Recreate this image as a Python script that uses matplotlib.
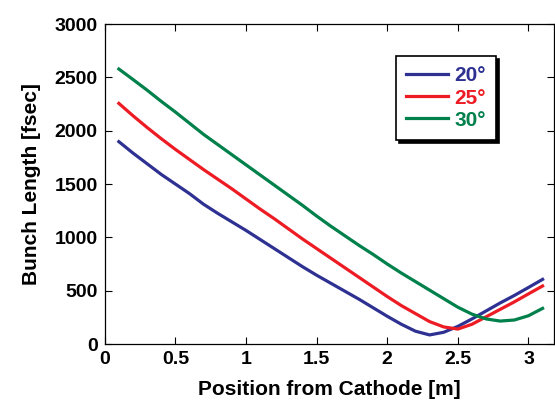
import numpy as np
import matplotlib
matplotlib.use('Agg')
import matplotlib.pyplot as plt

plt.rcParams['font.family'] = ['Liberation Sans', 'DejaVu Sans']
plt.rcParams['font.weight'] = 'bold'

# position from cathode [m]
position = np.round(np.arange(0.1, 3.11, 0.1), 1)

# bunch length [fsec] for each angle
bunch_20 = [1897, 1790, 1690, 1590, 1500, 1410, 1310, 1225, 1145, 1065,
            980, 895, 810, 725, 645, 570, 495, 420, 340, 260,
            185, 120, 85, 110, 165, 235, 310, 385, 455, 530, 606]
bunch_25 = [2256, 2140, 2030, 1925, 1825, 1730, 1635, 1545, 1455, 1360,
            1265, 1175, 1080, 985, 895, 805, 715, 625, 535, 445,
            360, 285, 210, 160, 140, 185, 255, 325, 395, 470, 544]
bunch_30 = [2578, 2480, 2380, 2275, 2175, 2070, 1965, 1870, 1775, 1680,
            1585, 1490, 1395, 1300, 1200, 1105, 1015, 925, 840, 750,
            665, 585, 505, 425, 345, 280, 235, 215, 225, 265, 334]

labels = ['20°', '25°', '30°']
colors = ['#2E3192', '#ED1C24', '#00804A']

fig = plt.figure(figsize=(5.55, 4.03), dpi=100)
ax = fig.add_axes([0.1887, 0.1464, 0.8093, 0.794])

for series, label, color in zip([bunch_20, bunch_25, bunch_30], labels, colors):
    ax.plot(position, series, color=color, lw=2.3, label=label)

ax.set_xlim(0, 3.18)
ax.set_ylim(0, 3000)
ax.set_xticks([0, 0.5, 1, 1.5, 2, 2.5, 3])
ax.set_xticklabels(['0', '0.5', '1', '1.5', '2', '2.5', '3'])
ax.set_yticks(np.arange(0, 3001, 500))
ax.tick_params(direction='in', top=True, right=True, length=5, width=0.8,
               labelsize=14, pad=5)
for spine in ax.spines.values():
    spine.set_linewidth(0.9)

ax.set_xlabel('Position from Cathode [m]', fontsize=15, fontweight='bold', labelpad=9)
ax.set_ylabel('Bunch Length [fsec]', fontsize=15, fontweight='bold', labelpad=10)

leg = ax.legend(loc='upper left', bbox_to_anchor=(0.648, 0.9), fontsize=15,
                labelcolor='linecolor', fancybox=False, edgecolor='black',
                shadow={'color': 'black', 'alpha': 1.0}, framealpha=1,
                handlelength=2.0, handletextpad=0.3, borderpad=0.5,
                labelspacing=0.15, borderaxespad=0)
leg.get_frame().set_linewidth(1.2)

fig.savefig('out.png', dpi=100)
